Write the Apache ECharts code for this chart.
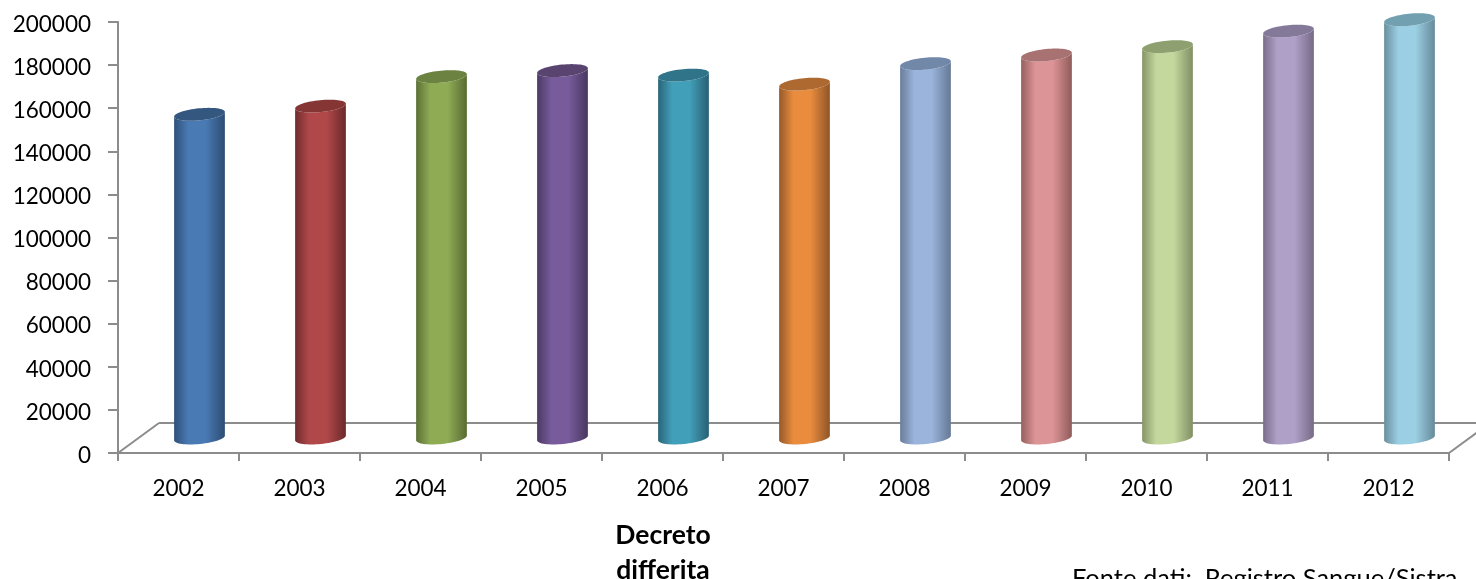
<!DOCTYPE html>
<html>
<head>
<meta charset="utf-8">
<style>
  html, body { margin: 0; padding: 0; background: #fff; overflow: hidden; }
  #chart { width: 1476px; height: 579px; }
</style>
<script src="https://cdn.jsdelivr.net/npm/echarts@6/dist/echarts.min.js"></script>
</head>
<body>
<div id="chart"></div>
<script>
// Annual totals by year
const years = ['2002','2003','2004','2005','2006','2007','2008','2009','2010','2011','2012'];
const totals = [150200,154000,167700,170500,168400,164200,173700,177700,181600,188800,194100];
const bodyColors = ['#4a7ab4','#b0484a','#8fac55','#775b9b','#429fb9','#e98c3e','#9ab4dc','#dd9496','#c4d89d','#afa0c8','#9bcfe3'];
const edgeColors = ['#2f5078','#702c2d','#5c7035','#4c3a65','#2a6578','#96592a','#6a7d9a','#96605f','#869468','#7a6e8b','#6a8f9e'];
const topColors  = ['#34577f','#863535','#6b8240','#59436f','#2f7488','#ad6930','#7288a9','#a87172','#8fa070','#857999','#73a0b1'];

const AXIS_GRAY = '#8c8c8c';
const FONT = 'Lato, "Open Sans", sans-serif';

// Depth of the floor and how far the cylinders sit into it
const DEPTH = [41, -30];
const BAR_SHIFT = [21, -15];
const BAR_RADIUS = 25.5;
const CAP_RADIUS_Y = 6;
const CAP_TILT = 5.6 * Math.PI / 180;

// Point on a tilted ellipse around (cx, cy); t in radians
function ellipsePoint(cx, cy, t) {
  const ex = BAR_RADIUS * Math.cos(t);
  const ey = CAP_RADIUS_Y * Math.sin(t);
  return [
    cx + ex * Math.cos(CAP_TILT) + ey * Math.sin(CAP_TILT),
    cy - ex * Math.sin(CAP_TILT) + ey * Math.cos(CAP_TILT)
  ];
}

function arc(cx, cy, from, to, steps) {
  const pts = [];
  for (let i = 0; i <= steps; i++) {
    pts.push(ellipsePoint(cx, cy, from + (to - from) * i / steps));
  }
  return pts;
}

function renderCylinder(params, api) {
  const idx = params.dataIndex;
  const top = api.coord([api.value(0), api.value(1)]);
  const base = api.coord([api.value(0), 0]);
  const cx = top[0] + BAR_SHIFT[0];
  const yTop = top[1] + BAR_SHIFT[1];
  const yBase = base[1] + BAR_SHIFT[1];
  // Side wall: front edge of the base (right to left), then front edge of the cap (left to right)
  const wall = arc(cx, yBase, 0, Math.PI, 32).concat(arc(cx, yTop, Math.PI, 0, 32));
  const grad = new echarts.graphic.LinearGradient(0, 0, 1, 0, [
    { offset: 0, color: edgeColors[idx] },
    { offset: 0.28, color: bodyColors[idx] },
    { offset: 0.62, color: bodyColors[idx] },
    { offset: 0.97, color: edgeColors[idx] },
    { offset: 1, color: edgeColors[idx] }
  ]);
  return {
    type: 'group',
    children: [
      { type: 'polygon', shape: { points: wall }, style: { fill: grad } },
      { type: 'polygon', shape: { points: arc(cx, yTop, 0, Math.PI * 2, 64) }, style: { fill: topColors[idx] } }
    ]
  };
}

// Floor of the plot: back edge and the two receding side edges
function renderFloor(params, api) {
  const band = api.size([1, 0])[0];
  const first = api.coord([0, 0]);
  const left = [first[0] - band / 2, first[1]];
  const right = [left[0] + band * years.length, left[1]];
  const line = (a, b) => ({
    type: 'line',
    shape: { x1: a[0], y1: a[1], x2: b[0], y2: b[1] },
    style: { stroke: AXIS_GRAY, lineWidth: 2 }
  });
  const backLeft = [left[0] + DEPTH[0], left[1] + DEPTH[1]];
  const backRight = [right[0] + DEPTH[0], right[1] + DEPTH[1]];
  return {
    type: 'group',
    children: [line(left, backLeft), line(backLeft, backRight), line(right, backRight)]
  };
}

const chart = echarts.init(document.getElementById('chart'), null, { renderer: 'canvas' });
chart.setOption({
  animation: false,
  backgroundColor: '#fff',
  grid: { left: 118, right: 27, top: 22, bottom: 126, containLabel: false },
  xAxis: {
    type: 'category',
    data: years,
    boundaryGap: true,
    axisLine: { lineStyle: { color: AXIS_GRAY, width: 2 } },
    axisTick: { show: true, alignWithLabel: false, length: 8, lineStyle: { color: AXIS_GRAY, width: 2 } },
    axisLabel: { color: '#000', fontFamily: FONT, fontSize: 22.5, margin: 24 }
  },
  yAxis: {
    type: 'value',
    min: 0,
    max: 200000,
    interval: 20000,
    splitLine: { show: false },
    axisLine: { show: true, lineStyle: { color: AXIS_GRAY, width: 2 } },
    axisTick: { show: true, length: 10, lineStyle: { color: AXIS_GRAY, width: 2 } },
    axisLabel: {
      color: '#000',
      margin: 27,
      formatter: v => '{tick|' + v + '}',
      rich: { tick: { color: '#000', fontFamily: FONT, fontSize: 22.5, padding: [5, 0, 0, 0] } }
    }
  },
  series: [
    {
      type: 'custom',
      renderItem: renderFloor,
      data: [[0, 0]],
      silent: true,
      clip: false,
      z: 1
    },
    {
      type: 'custom',
      renderItem: renderCylinder,
      encode: { x: 0, y: 1 },
      data: years.map((y, i) => [i, totals[i]]),
      clip: false,
      z: 2
    }
  ],
  graphic: [
    {
      type: 'text',
      x: 663,
      y: 518,
      style: {
        text: 'Decreto\ndifferita',
        align: 'center',
        fill: '#000',
        font: 'bold 26.5px ' + FONT,
        lineHeight: 35
      }
    },
    {
      type: 'text',
      x: 1072,
      y: 566,
      style: {
        text: 'Fonte dati:  Registro Sangue/Sistra',
        fill: '#000',
        font: '25.5px ' + FONT
      }
    }
  ]
});
</script>
</body>
</html>
